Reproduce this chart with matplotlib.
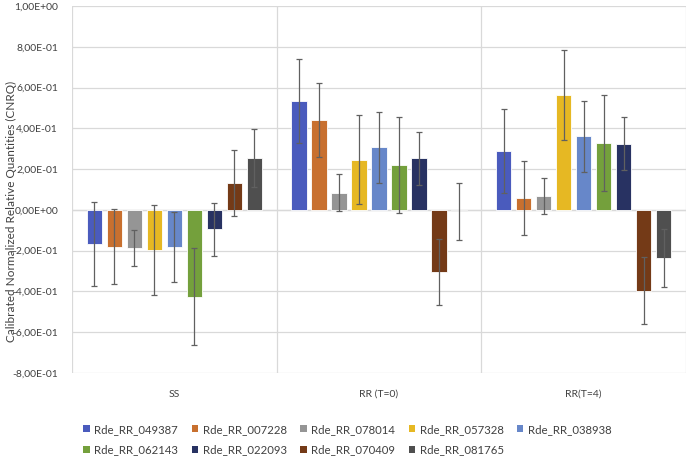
import numpy as np
from matplotlib import pyplot as plt
from matplotlib.patches import Patch
from matplotlib.ticker import FuncFormatter, FixedLocator

plt.rcParams['font.family'] = ['Lato', 'DejaVu Sans']

groups = ['SS', 'RR (T=0)', 'RR(T=4)']
genes = ['Rde_RR_049387', 'Rde_RR_007228', 'Rde_RR_078014', 'Rde_RR_057328', 'Rde_RR_038938',
         'Rde_RR_062143', 'Rde_RR_022093', 'Rde_RR_070409', 'Rde_RR_081765']
colors = ['#4A5BBD', '#C8702F', '#959595', '#E6B823', '#6787C9',
          '#74A03C', '#283262', '#743A17', '#4F4F4F']

# CNRQ per gene, one value per group (SS, RR T=0, RR T=4)
values = {
    'Rde_RR_049387': [-0.168, 0.533, 0.291],
    'Rde_RR_007228': [-0.180, 0.440, 0.057],
    'Rde_RR_078014': [-0.186, 0.085, 0.069],
    'Rde_RR_057328': [-0.196, 0.247, 0.565],
    'Rde_RR_038938': [-0.183, 0.307, 0.361],
    'Rde_RR_062143': [-0.425, 0.220, 0.328],
    'Rde_RR_022093': [-0.096, 0.253, 0.325],
    'Rde_RR_070409': [0.131, -0.304, -0.396],
    'Rde_RR_081765': [0.253, -0.008, -0.237],
}
errors = {
    'Rde_RR_049387': [0.206, 0.207, 0.206],
    'Rde_RR_007228': [0.182, 0.180, 0.181],
    'Rde_RR_078014': [0.088, 0.090, 0.088],
    'Rde_RR_057328': [0.221, 0.220, 0.220],
    'Rde_RR_038938': [0.172, 0.174, 0.174],
    'Rde_RR_062143': [0.236, 0.236, 0.236],
    'Rde_RR_022093': [0.131, 0.129, 0.131],
    'Rde_RR_070409': [0.163, 0.163, 0.163],
    'Rde_RR_081765': [0.143, 0.142, 0.141],
}

fig = plt.figure(figsize=(6.88, 4.59), dpi=100)
ax = fig.add_axes([0.1047, 0.1874, 0.8924, 0.7996])

x = np.arange(len(groups))
pitch = 0.0976
width = 0.075
for i, g in enumerate(genes):
    off = (i - 4) * pitch
    ax.bar(x + off, values[g], width, color=colors[i], edgecolor='white', linewidth=0.6, zorder=3)
    ax.errorbar(x + off, values[g], yerr=errors[g], fmt='none', ecolor='#606060',
                elinewidth=0.9, capsize=2.5, capthick=0.9, zorder=4)

ax.set_xlim(-0.5, len(groups) - 0.5)
ax.set_ylim(-0.8, 1.0)
ax.set_yticks(np.arange(-0.8, 1.01, 0.2))
ax.yaxis.set_major_formatter(FuncFormatter(lambda v, p: ('%.2E' % (0.0 if abs(v) < 1e-9 else v)).replace('.', ',')))
ax.set_xticks(x)
ax.set_xticklabels(groups)
ax.xaxis.set_minor_locator(FixedLocator(np.arange(-0.5, len(groups), 1.0)))
ax.grid(axis='y', which='major', color='#D9D9D9', linewidth=0.9, zorder=0)
ax.grid(axis='x', which='minor', color='#D9D9D9', linewidth=0.9, zorder=0)
ax.axhline(0, color='#C8C8C8', linewidth=0.9, zorder=1)
for s in ax.spines.values():
    s.set_visible(False)
ax.tick_params(axis='both', which='both', length=0, labelsize=7.5, colors='#404040')
ax.tick_params(axis='x', pad=12)
ax.tick_params(axis='y', pad=10)
ax.set_ylabel('Calibrated Normalized Relative Quantities (CNRQ)', fontsize=8.5, color='#404040')
ax.yaxis.set_label_coords(-0.09, 0.441)

# legend filled row by row like Excel
order = [0, 5, 1, 6, 2, 7, 3, 8, 4]
handles = [Patch(facecolor=colors[k], edgecolor='none') for k in order]
labels = [genes[k] for k in order]
fig.legend(handles, labels, loc='lower left', bbox_to_anchor=(0.108, -0.012), ncol=5, frameon=False,
           fontsize=8.2, handlelength=0.55, handleheight=0.55, handletextpad=0.4,
           columnspacing=1.2, labelspacing=0.85, borderpad=0.3, labelcolor='#404040')

plt.savefig('out.png', dpi=100)
